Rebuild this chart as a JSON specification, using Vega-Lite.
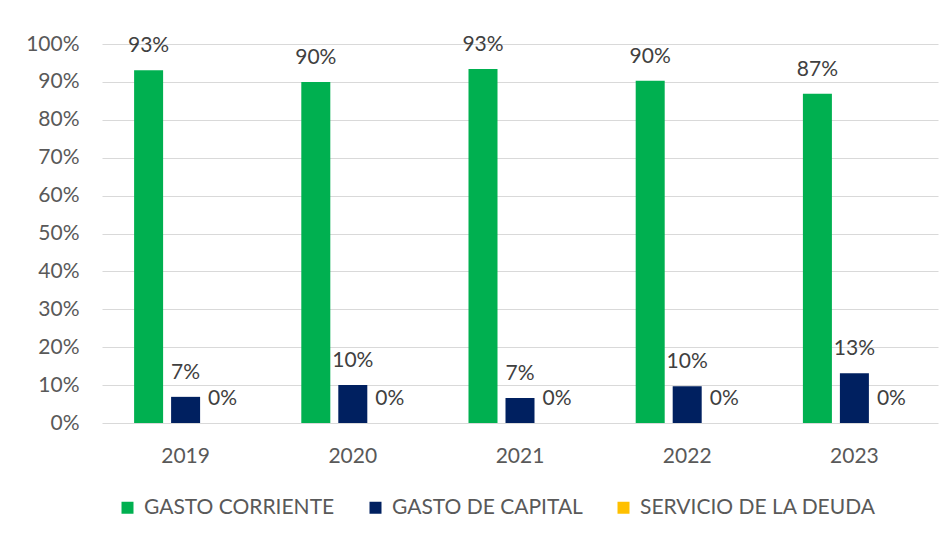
{
  "$schema": "https://vega.github.io/schema/vega-lite/v6.json",
  "width": 836,
  "height": 379,
  "autosize": {"type": "none"},
  "padding": {"left": 102, "top": 44, "right": 14, "bottom": 113},
  "background": "white",
  "config": {"view": {"stroke": null}, "font": "Lato"},
  "data": {
    "values": [
      {"year": "2019", "serie": "GASTO CORRIENTE", "value": 0.931},
      {"year": "2019", "serie": "GASTO DE CAPITAL", "value": 0.069},
      {"year": "2019", "serie": "SERVICIO DE LA DEUDA", "value": 0.0},
      {"year": "2020", "serie": "GASTO CORRIENTE", "value": 0.90},
      {"year": "2020", "serie": "GASTO DE CAPITAL", "value": 0.10},
      {"year": "2020", "serie": "SERVICIO DE LA DEUDA", "value": 0.0},
      {"year": "2021", "serie": "GASTO CORRIENTE", "value": 0.934},
      {"year": "2021", "serie": "GASTO DE CAPITAL", "value": 0.066},
      {"year": "2021", "serie": "SERVICIO DE LA DEUDA", "value": 0.0},
      {"year": "2022", "serie": "GASTO CORRIENTE", "value": 0.903},
      {"year": "2022", "serie": "GASTO DE CAPITAL", "value": 0.097},
      {"year": "2022", "serie": "SERVICIO DE LA DEUDA", "value": 0.0},
      {"year": "2023", "serie": "GASTO CORRIENTE", "value": 0.869},
      {"year": "2023", "serie": "GASTO DE CAPITAL", "value": 0.131},
      {"year": "2023", "serie": "SERVICIO DE LA DEUDA", "value": 0.0}
    ]
  },
  "encoding": {
    "x": {
      "field": "year",
      "type": "nominal",
      "scale": {"paddingInner": 0.384, "paddingOuter": 0.192},
      "axis": {
        "title": null,
        "domain": false,
        "ticks": false,
        "tickSize": 0,
        "labelAngle": 0,
        "labelPadding": 22,
        "labelFontSize": 21,
        "labelColor": "#595959",
        "grid": false
      }
    },
    "xOffset": {
      "field": "serie",
      "type": "nominal",
      "sort": ["GASTO CORRIENTE", "GASTO DE CAPITAL", "SERVICIO DE LA DEUDA"],
      "scale": {"paddingInner": 0.216, "paddingOuter": 0}
    },
    "y": {
      "field": "value",
      "type": "quantitative",
      "scale": {"domain": [0, 1], "nice": false},
      "axis": {
        "title": null,
        "domain": false,
        "ticks": false,
        "tickSize": 0,
        "values": [0, 0.1, 0.2, 0.3, 0.4, 0.5, 0.6, 0.7, 0.8, 0.9, 1],
        "format": ".0%",
        "labelPadding": 23,
        "labelFontSize": 21,
        "labelColor": "#595959",
        "gridColor": "#D9D9D9",
        "gridWidth": 1
      }
    }
  },
  "layer": [
    {
      "mark": {"type": "bar"},
      "encoding": {
        "color": {
          "field": "serie",
          "type": "nominal",
          "scale": {
            "domain": ["GASTO CORRIENTE", "GASTO DE CAPITAL", "SERVICIO DE LA DEUDA"],
            "range": ["#00B050", "#002060", "#FFC000"]
          },
          "legend": {
            "title": null,
            "orient": "none",
            "legendX": 15,
            "legendY": 453,
            "direction": "horizontal",
            "symbolType": "square",
            "symbolSize": 144,
            "symbolStrokeWidth": 0,
            "labelFontSize": 21,
            "labelColor": "#595959",
            "labelLimit": 0,
            "labelOffset": 6,
            "columnPadding": 30
          }
        }
      }
    },
    {
      "mark": {"type": "text", "dy": -18, "baseline": "alphabetic", "fontSize": 21, "color": "#404040"},
      "encoding": {
        "text": {"field": "value", "type": "quantitative", "format": ".0%"}
      }
    }
  ]
}
